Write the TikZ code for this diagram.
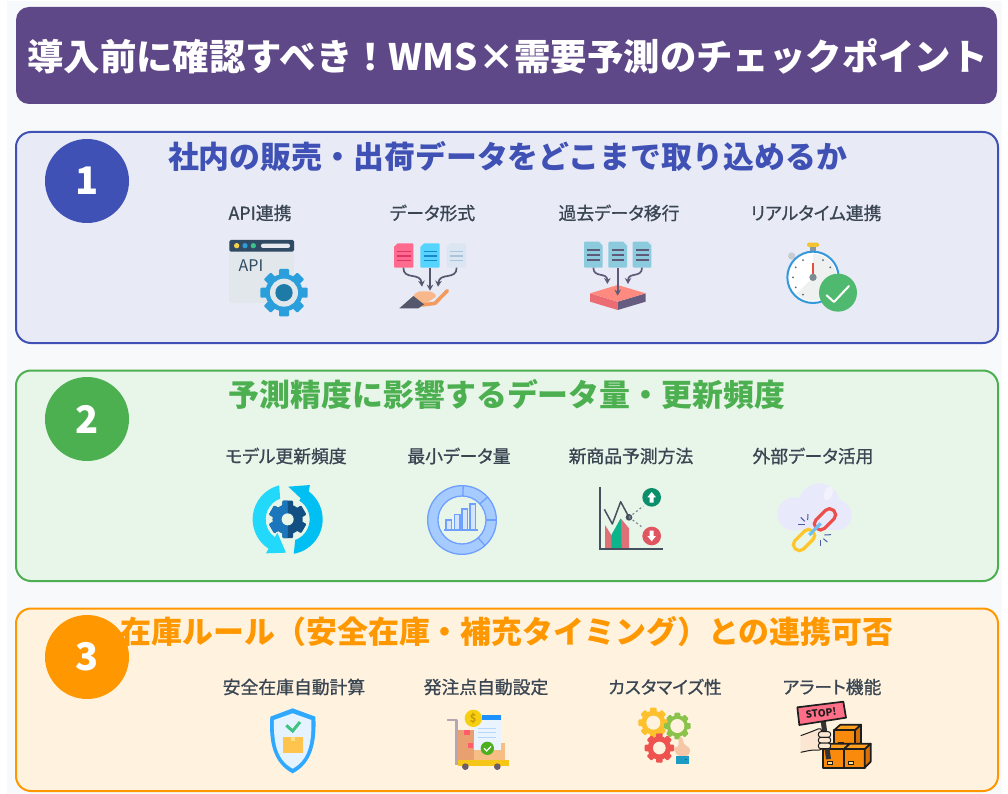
\documentclass[tikz,border=0pt]{standalone}
\usepackage{fontspec}
\setmainfont{Noto Sans CJK JP}
\newfontfamily\jpm[FakeBold=0.9,RawFeature={+palt}]{Noto Sans CJK JP}
\usetikzlibrary{arrows.meta}
\definecolor{cTitle}{HTML}{5E4887}
\definecolor{cBg}{HTML}{F8F9FB}
\definecolor{cA}{HTML}{3F51B5}\definecolor{cAf}{HTML}{E8EAF6}
\definecolor{cB}{HTML}{4CAF50}\definecolor{cBf}{HTML}{E8F5E9}
\definecolor{cC}{HTML}{FF9800}\definecolor{cCf}{HTML}{FFF3E0}
\definecolor{cLab}{HTML}{3A4552}
\definecolor{cArrow}{HTML}{55586C}
\definecolor{cDocLine}{HTML}{5F5A78}
\definecolor{cChart}{HTML}{6F9FFF}
\newcommand\dc[1]{\definecolor{HTML#1}{HTML}{#1}}
\dc{E2E7EC}\dc{2F4A62}\dc{F5CF4B}\dc{2E9CD8}\dc{3CC08E}\dc{E6EAEE}\dc{2A9FDB}\dc{1E7BA8}\dc{FF6B8E}\dc{E0336A}
\dc{55D4FF}\dc{1A85C8}\dc{DCE6F2}\dc{AAC4DE}\dc{F9B78C}\dc{F39A5C}\dc{55586C}\dc{8CCBDD}\dc{EB6D73}\dc{665C80}
\dc{FF8A80}\dc{C9CCD2}\dc{8A979E}\dc{F4C430}\dc{3498DB}\dc{EFF0F0}\dc{59656E}\dc{EB4D3D}\dc{7D8B93}\dc{4FB96F}
\dc{22D9FB}\dc{00BFF2}\dc{124F82}\dc{1B76BC}\dc{A5CBFF}\dc{D3E5FF}\dc{DE7078}\dc{0BB48A}\dc{47505E}\dc{7D8894}
\dc{0A8F6A}\dc{DF5560}\dc{E9E9FC}\dc{F2F2FE}\dc{EC4E4B}\dc{FFC62B}\dc{6EC1F5}\dc{4A5AA5}\dc{2FA8FF}\dc{E4F3FF}
\dc{3FC380}\dc{FFC44D}\dc{FFE08A}\dc{B5A8B5}\dc{E8A070}\dc{F6BE84}\dc{FF5D6C}\dc{EAF4FF}\dc{1E90FF}\dc{B5D6F5}
\dc{F6D010}\dc{C99A0A}\dc{4CAF1E}\dc{F5C518}\dc{6B5B6B}\dc{FFC02E}\dc{8BC34A}\dc{EF5350}\dc{F6C6A8}\dc{1C9CC4}
\dc{0D6E90}\dc{333333}\dc{1E1E1E}\dc{FF7088}\dc{F98A0C}\dc{D96F06}\dc{FFA01E}\dc{FBE6D2}
\tikzset{
  zoomed/.style 2 args={shift={(#1pt,-#2pt)},x=0.33333pt,y=-0.33333pt},
  panel/.style={draw=#1,line width=2pt,rounded corners=15pt},
  badge/.style={circle,fill=#1,minimum size=84pt,inner sep=0pt,text=white,font=\bfseries\fontsize{38}{38}\selectfont},
  head/.style={text=#1,font=\bfseries\fontsize{30.9}{32}\selectfont,inner sep=0pt},
  lab/.style={text=cLab,font=\jpm\fontsize{17.8}{19}\selectfont,inner sep=0pt},
  darrow/.style={draw=cArrow,line width=1.7pt,-{Stealth[length=6pt,width=6.5pt]}},
  parrow/.style={draw=cDocLine,line width=1.7pt,-{Stealth[length=6pt,width=6.5pt]}},
  boxline/.style={draw=HTML1E1E1E,line width=1.7pt,line join=round}
}
% cx cy Ro Ri hole n toothhalfwidth colour holecolour
\newcommand\zgear[9]{%
  \foreach \k in {1,...,#6}{%
    \pgfmathsetmacro\zga{360*\k/#6}%
    \fill[#8,rounded corners=1pt,rotate around={\zga:(#1,#2)}] (#1-#7,#2) rectangle (#1+#7,#2-#3);}%
  \fill[#8] (#1,#2) circle[radius=#4];
  \fill[#9] (#1,#2) circle[radius=#5];}
% doc with lines: x1 y1 x2 y2 fill line
\newcommand\zdoc[6]{%
  \fill[#5,rounded corners=1pt] (#1,#2) rectangle (#3,#4);
  \foreach \f in {0.33,0.52,0.71}{\draw[#6,line width=1.7pt] (#1+10,{#2+(#4-#2)*\f}) -- (#3-8,{#2+(#4-#2)*\f});}}
\begin{document}
\begin{tikzpicture}[x=1pt,y=-1pt]
\useasboundingbox (0,0) rectangle (1008,794);
\fill[white] (0,0) rectangle (1008,794);
\fill[cBg] (7,1) rectangle (1002,794);

% title
\fill[cTitle,rounded corners=13pt] (16,7) rectangle (997,104);
\node[text=white,inner sep=0pt,font=\bfseries\fontsize{36.4}{38}\selectfont] (title) at (507.5,56) {導入前に確認すべき！WMS×需要予測のチェックポイント};

% panels
\filldraw[panel=cA,fill=cAf] (16,132) rectangle (998,343);
\filldraw[panel=cB,fill=cBf] (16,370.5) rectangle (998,581);
\filldraw[panel=cC,fill=cCf] (16,608.5) rectangle (998,791);

\node[badge=cA] (n1) at (87,181) {1};
\node[badge=cB] (n2) at (87,419) {2};
\node[badge=cC] (n3) at (87,657) {3};

\node[head=cA] (h1) at (507.5,156) {社内の販売・出荷データをどこまで取り込めるか};
\node[head=cB] (h2) at (507,394) {予測精度に影響するデータ量・更新頻度};
\node[head=cC] (h3) at (507,632) {在庫ルール（安全在庫・補充タイミング）との連携可否};

\node[lab] (a1) at (260,213) {API連携};
\node[lab] (a2) at (432.5,213) {データ形式};
\node[lab] (a3) at (619,213) {過去データ移行};
\node[lab] (a4) at (816,213) {リアルタイム連携};
\node[lab] (b1) at (286,456) {モデル更新頻度};
\node[lab] (b2) at (459,456) {最小データ量};
\node[lab] (b3) at (631,456) {新商品予測方法};
\node[lab] (b4) at (813,456) {外部データ活用};
\node[lab] (c1) at (294,687) {安全在庫自動計算};
\node[lab] (c2) at (486,687) {発注点自動設定};
\node[lab] (c3) at (665,687) {カスタマイズ性};
\node[lab] (c4) at (832,687) {アラート機能};

% ---------- row 1 icons, part 1
\begin{scope}[zoomed={200}{190}]
  % API window
  \fill[HTMLE2E7EC] (88,150) rectangle (282,338);
  \fill[HTML2F4A62,rounded corners=1.5pt] (88,150) rectangle (282,185);
  \fill[HTMLF5CF4B] (110,167) circle[radius=8];
  \fill[HTML2E9CD8] (135,167) circle[radius=8];
  \fill[HTML3CC08E] (160,167) circle[radius=8];
  \fill[HTMLE6EAEE,rounded corners=2pt] (183,161) rectangle (270,174);
  \node[text=HTML2F4A62,inner sep=0pt,font=\fontsize{16}{16}\selectfont] (apitxt) at (153,228) {API};
  \zgear{252}{308}{71}{56}{42}{8}{15}{HTML2A9FDB}{HTMLE2E7EC}
  \fill[HTML1E7BA8] (252,308) circle[radius=26];
  % data format
  \zdoc{582}{160}{640}{233}{HTMLFF6B8E}{HTMLE0336A}
  \zdoc{661}{160}{719}{233}{HTML55D4FF}{HTML1A85C8}
  \zdoc{740}{160}{798}{233}{HTMLDCE6F2}{HTMLAAC4DE}
  \foreach \dx in {582,661,740}{\fill[cAf] (\dx-1,159) -- (\dx+11,159) -- (\dx-1,171) -- cycle;}
  \draw[darrow] (610,233) .. controls (610,272) and (662,245) .. (666,290);
  \draw[darrow] (770,233) .. controls (770,272) and (718,245) .. (714,290);
  \fill[HTMLF9B78C,rounded corners=3pt] (636,322) -- (652,304) -- (695,304) -- (712,318) -- (665,348) -- cycle;
  \draw[HTMLF39A5C,line width=3.6pt,line cap=round,line join=round] (665,345) -- (705,340) -- (742,302);
  \fill[HTML55586C] (598,355) -- (640,318) -- (672,343) -- (655,355) -- cycle;
  \draw[darrow] (690,233) -- (690,302);
\end{scope}

% ---------- row 1 icons, part 2
\begin{scope}[zoomed={530}{190}]
  \foreach \dx in {162,235,308}{\zdoc{\dx}{155}{\dx+56}{233}{HTML8CCBDD}{cDocLine}
    \fill[cAf] (\dx+44,154) -- (\dx+57,154) -- (\dx+57,167) -- cycle;}
  \draw[parrow] (190,233) .. controls (190,265) and (232,245) .. (232,282);
  \draw[parrow] (336,233) .. controls (336,265) and (294,245) .. (294,282);
  \fill[HTMLEB6D73] (180,310) -- (263,335) -- (263,360) -- (180,335) -- cycle;
  \fill[HTML665C80] (347,310) -- (263,335) -- (263,360) -- (347,335) -- cycle;
  \fill[HTMLFF8A80] (263,285) -- (347,310) -- (263,335) -- (180,310) -- cycle;
  \draw[parrow] (263,233) -- (263,317);
  % stopwatch
  \fill[HTMLC9CCD2] (785,198) circle[radius=11];
  \fill[HTML8A979E] (841,165) rectangle (857,190);
  \fill[HTMLF4C430,rounded corners=1.5pt] (831,158) rectangle (867,171);
  \filldraw[draw=HTML3498DB,fill=white,line width=2pt] (849,262) circle[radius=77];
  \fill[HTMLEFF0F0] (849,262) -- (849,192) arc[start angle=-90,end angle=135,radius=70] -- cycle;
  \foreach \ang in {-60,-30,0,30,60,120,150,180,210,240}{\fill[HTML59656E] (849,262) ++(\ang:60) circle[radius=3];}
  \fill[HTMLEB4D3D] (846,218) rectangle (852,254);
  \fill[HTML7D8B93] (849,262) circle[radius=11];
  \fill[HTML4FB96F] (924,308) circle[radius=57];
  \draw[white,line width=2pt,line cap=round,line join=round] (890,316) -- (912,336) -- (957,288);
\end{scope}

% ---------- row 2 icons, part 1
\begin{scope}[zoomed={200}{440}]
  \fill[HTML22D9FB,shift={(263,238)}] (120:105) arc[start angle=120,end angle=256,radius=105] -- (250:66) arc[start angle=250,end angle=120,radius=66] -- cycle;
  \fill[HTML22D9FB] (198,340) -- (258,338) -- (232,278) -- cycle;
  \fill[HTML00BFF2,shift={(263,238)}] (-58:105) arc[start angle=-58,end angle=80,radius=105] -- (70:66) arc[start angle=70,end angle=-58,radius=66] -- cycle;
  \fill[HTML00BFF2] (265,140) -- (330,135) -- (318,190) -- cycle;
  \zgear{263}{238}{56}{45}{0}{6}{16}{HTML124F82}{HTML124F82}
  \begin{scope}
    \clip (200,170) rectangle (263,300);
    \zgear{263}{238}{56}{45}{0}{6}{16}{HTML1B76BC}{HTML1B76BC}
  \end{scope}
  \fill[cBf] (263,238) circle[radius=18];
  % donut
  \filldraw[draw=cChart,fill=HTMLA5CBFF,line width=1.3pt] (786,240) circle[radius=103];
  \filldraw[draw=cChart,fill=cBf,line width=1.3pt] (786,240) circle[radius=72];
  \foreach \ang in {-88,-42,0,48}{\draw[cChart,line width=1.3pt] (786,240) ++(\ang:72) -- ++(\ang:31);}
  \foreach \bx/\by in {738/240,763/224,786/207,810/192}{\filldraw[draw=cChart,fill=HTMLD3E5FF,line width=1.2pt] (\bx,\by) rectangle (\bx+17,270);}
  \draw[cChart,line width=1.4pt] (733,270) -- (833,270);
\end{scope}

% ---------- row 2 icons, part 2
\begin{scope}[zoomed={550}{440}]
  \fill[HTMLDE7078] (165,255) -- (190,295) -- (212,235) -- (237,265) -- (237,325) -- (165,325) -- cycle;
  \fill[HTML0BB48A] (184,325) -- (184,285) -- (212,235) -- (215,325) -- cycle;
  \draw[HTML47505E,line width=1.7pt] (150,140) -- (150,327) -- (338,327);
  \draw[HTML47505E,line width=1.5pt,line join=round] (163,208) -- (187,252) -- (212,185) -- (237,232);
  \fill[HTML47505E] (237,232) circle[radius=10];
  \draw[HTML7D8894,line width=1.2pt,dash pattern=on 2pt off 2.5pt] (237,232) -- (280,198);
  \draw[HTML7D8894,line width=1.2pt,dash pattern=on 2pt off 2.5pt] (237,232) -- (280,264);
  \fill[HTML0A8F6A] (305,172) circle[radius=28];
  \fill[white] (305,156) -- (318,172) -- (311,172) -- (311,188) -- (299,188) -- (299,172) -- (292,172) -- cycle;
  \fill[HTMLDF5560] (305,288) circle[radius=28];
  \fill[white] (305,304) -- (318,288) -- (311,288) -- (311,272) -- (299,272) -- (299,288) -- (292,288) -- cycle;
  % cloud
  \fill[HTMLE9E9FC] (732,222) circle[radius=50];
  \fill[HTMLE9E9FC] (808,192) circle[radius=62];
  \fill[HTMLE9E9FC] (860,225) circle[radius=45];
  \fill[HTMLE9E9FC] (732,215) rectangle (860,270);
  \fill[HTMLF2F2FE,rotate around={-20:(835,160)}] (835,160) ellipse[x radius=12,y radius=22];
  \begin{scope}[rotate around={45:(825,238)}]
    \draw[HTMLEC4E4B,line width=3.2pt,rounded corners=5.5pt] (788,220) rectangle (862,256);
  \end{scope}
  \begin{scope}[rotate around={45:(762,300)}]
    \draw[HTMLFFC62B,line width=3.2pt,rounded corners=5.5pt] (725,282) rectangle (799,318);
  \end{scope}
  \draw[HTML6EC1F5,line width=3.2pt] (778,285) -- (812,250);
  \begin{scope}[HTML4A5AA5,line width=1pt]
    \draw (745,252) -- (765,252);
    \draw (752,232) -- (764,244);
    \draw (774,222) -- (773,240);
    \draw (823,285) -- (843,284);
    \draw (820,296) -- (832,306);
    \draw (810,300) -- (810,317);
  \end{scope}
\end{scope}

% ---------- row 3 icons, part 1
\begin{scope}[zoomed={200}{670}]
  \fill[HTML2FA8FF] (278,115) -- (346,140) .. controls (350,220) and (335,280) .. (278,310) .. controls (221,280) and (206,220) .. (211,140) -- cycle;
  \fill[HTMLE4F3FF] (278,130) -- (334,150) .. controls (336,220) and (325,270) .. (278,296) .. controls (231,270) and (220,220) .. (222,150) -- cycle;
  \draw[HTML3FC380,line width=3pt] (259,166) -- (278,183) -- (300,156);
  \fill[HTMLFFC44D] (248,200) rectangle (310,250);
  \fill[HTMLFFE08A] (272,200) rectangle (286,212);
  % cart
  \draw[HTMLB5A8B5,line width=2.4pt,line join=round] (742,150) -- (770,150) -- (770,285);
  \fill[HTMLE8A070] (775,180) rectangle (822,270);
  \fill[HTMLF6BE84] (822,218) rectangle (915,270);
  \fill[HTMLFF5D6C] (793,180) rectangle (810,195);
  \fill[HTMLFF5D6C] (805,218) rectangle (820,235);
  \fill[HTMLEAF4FF] (822,150) rectangle (902,240);
  \fill[HTML1E90FF] (845,135) rectangle (902,150);
  \foreach \ly in {175,188,201}{\draw[HTMLB5D6F5,line width=.9pt] (835,\ly) -- (888,\ly);}
  \fill[HTMLF6D010] (820,145) circle[radius=26];
  \node[text=HTMLC99A0A,inner sep=0pt,font=\bfseries\fontsize{11}{11}\selectfont] (coin) at (820,145) {\$};
  \fill[HTML4CAF1E] (862,235) circle[radius=20];
  \draw[white,line width=1.2pt] (852,235) -- (860,243) -- (873,229);
  \fill[HTMLF5C518] (775,270) rectangle (927,288);
  \fill[HTML6B5B6B] (796,290) circle[radius=10];
  \fill[HTML6B5B6B] (892,290) circle[radius=10];
\end{scope}

% ---------- row 3 icons, part 2
\begin{scope}[zoomed={590}{670}]
  \zgear{190}{158}{45}{36}{21}{8}{10}{HTMLFFC02E}{cCf}
  \zgear{262}{168}{40}{32}{21}{8}{9}{HTML8BC34A}{cCf}
  \zgear{208}{234}{44}{35}{19}{8}{10}{HTMLEF5350}{cCf}
  \fill[HTMLF6C6A8,rounded corners=3pt] (266,200) -- (278,200) -- (280,222) -- (302,235) -- (296,258) -- (262,258) -- (248,232) -- (266,232) -- cycle;
  \fill[HTML1C9CC4] (258,258) rectangle (298,282);
  \fill[HTML0D6E90] (284,266) rectangle (290,270);
  % boxes
  \foreach \bx/\by in {733/180,700/237,762/237}{
    \filldraw[boxline,fill=HTMLF98A0C] (\bx,\by) rectangle (\bx+62,\by+56);
    \filldraw[boxline,fill=HTMLD96F06] (\bx+62,\by) -- (\bx+80,\by-16) -- (\bx+80,\by+38) -- (\bx+62,\by+56) -- cycle;
    \filldraw[boxline,fill=HTMLFFA01E] (\bx,\by) -- (\bx+18,\by-16) -- (\bx+80,\by-16) -- (\bx+62,\by) -- cycle;
    \draw[HTML1E1E1E,line width=1pt,fill=HTMLFFE08A] (\bx+12,\by+36) rectangle (\bx+28,\by+46);}
  % stick
  \fill[HTML333333,rotate around={8:(707,210)}] (700,150) rectangle (715,268);
  % stop sign
  \filldraw[boxline,fill=HTMLFF7088] (622,112) -- (760,95) -- (768,143) -- (628,165) -- cycle;
  \node[rotate=7,text=HTML1E1E1E,inner sep=0pt,font=\bfseries\fontsize{10}{10}\selectfont] (stop) at (693,129) {STOP!};
  % hand
  \filldraw[draw=HTML1E1E1E,fill=HTMLFBE6D2,line width=1pt,rounded corners=4pt] (632,197) -- (670,183) -- (695,172) -- (700,240) -- (665,240) -- (632,247);
  \foreach \fy in {185,202,219}{\filldraw[draw=HTML1E1E1E,fill=HTMLFBE6D2,line width=1pt,rounded corners=2.5pt] (685,\fy) rectangle (722,\fy+17);}
\end{scope}
\end{tikzpicture}
\end{document}
